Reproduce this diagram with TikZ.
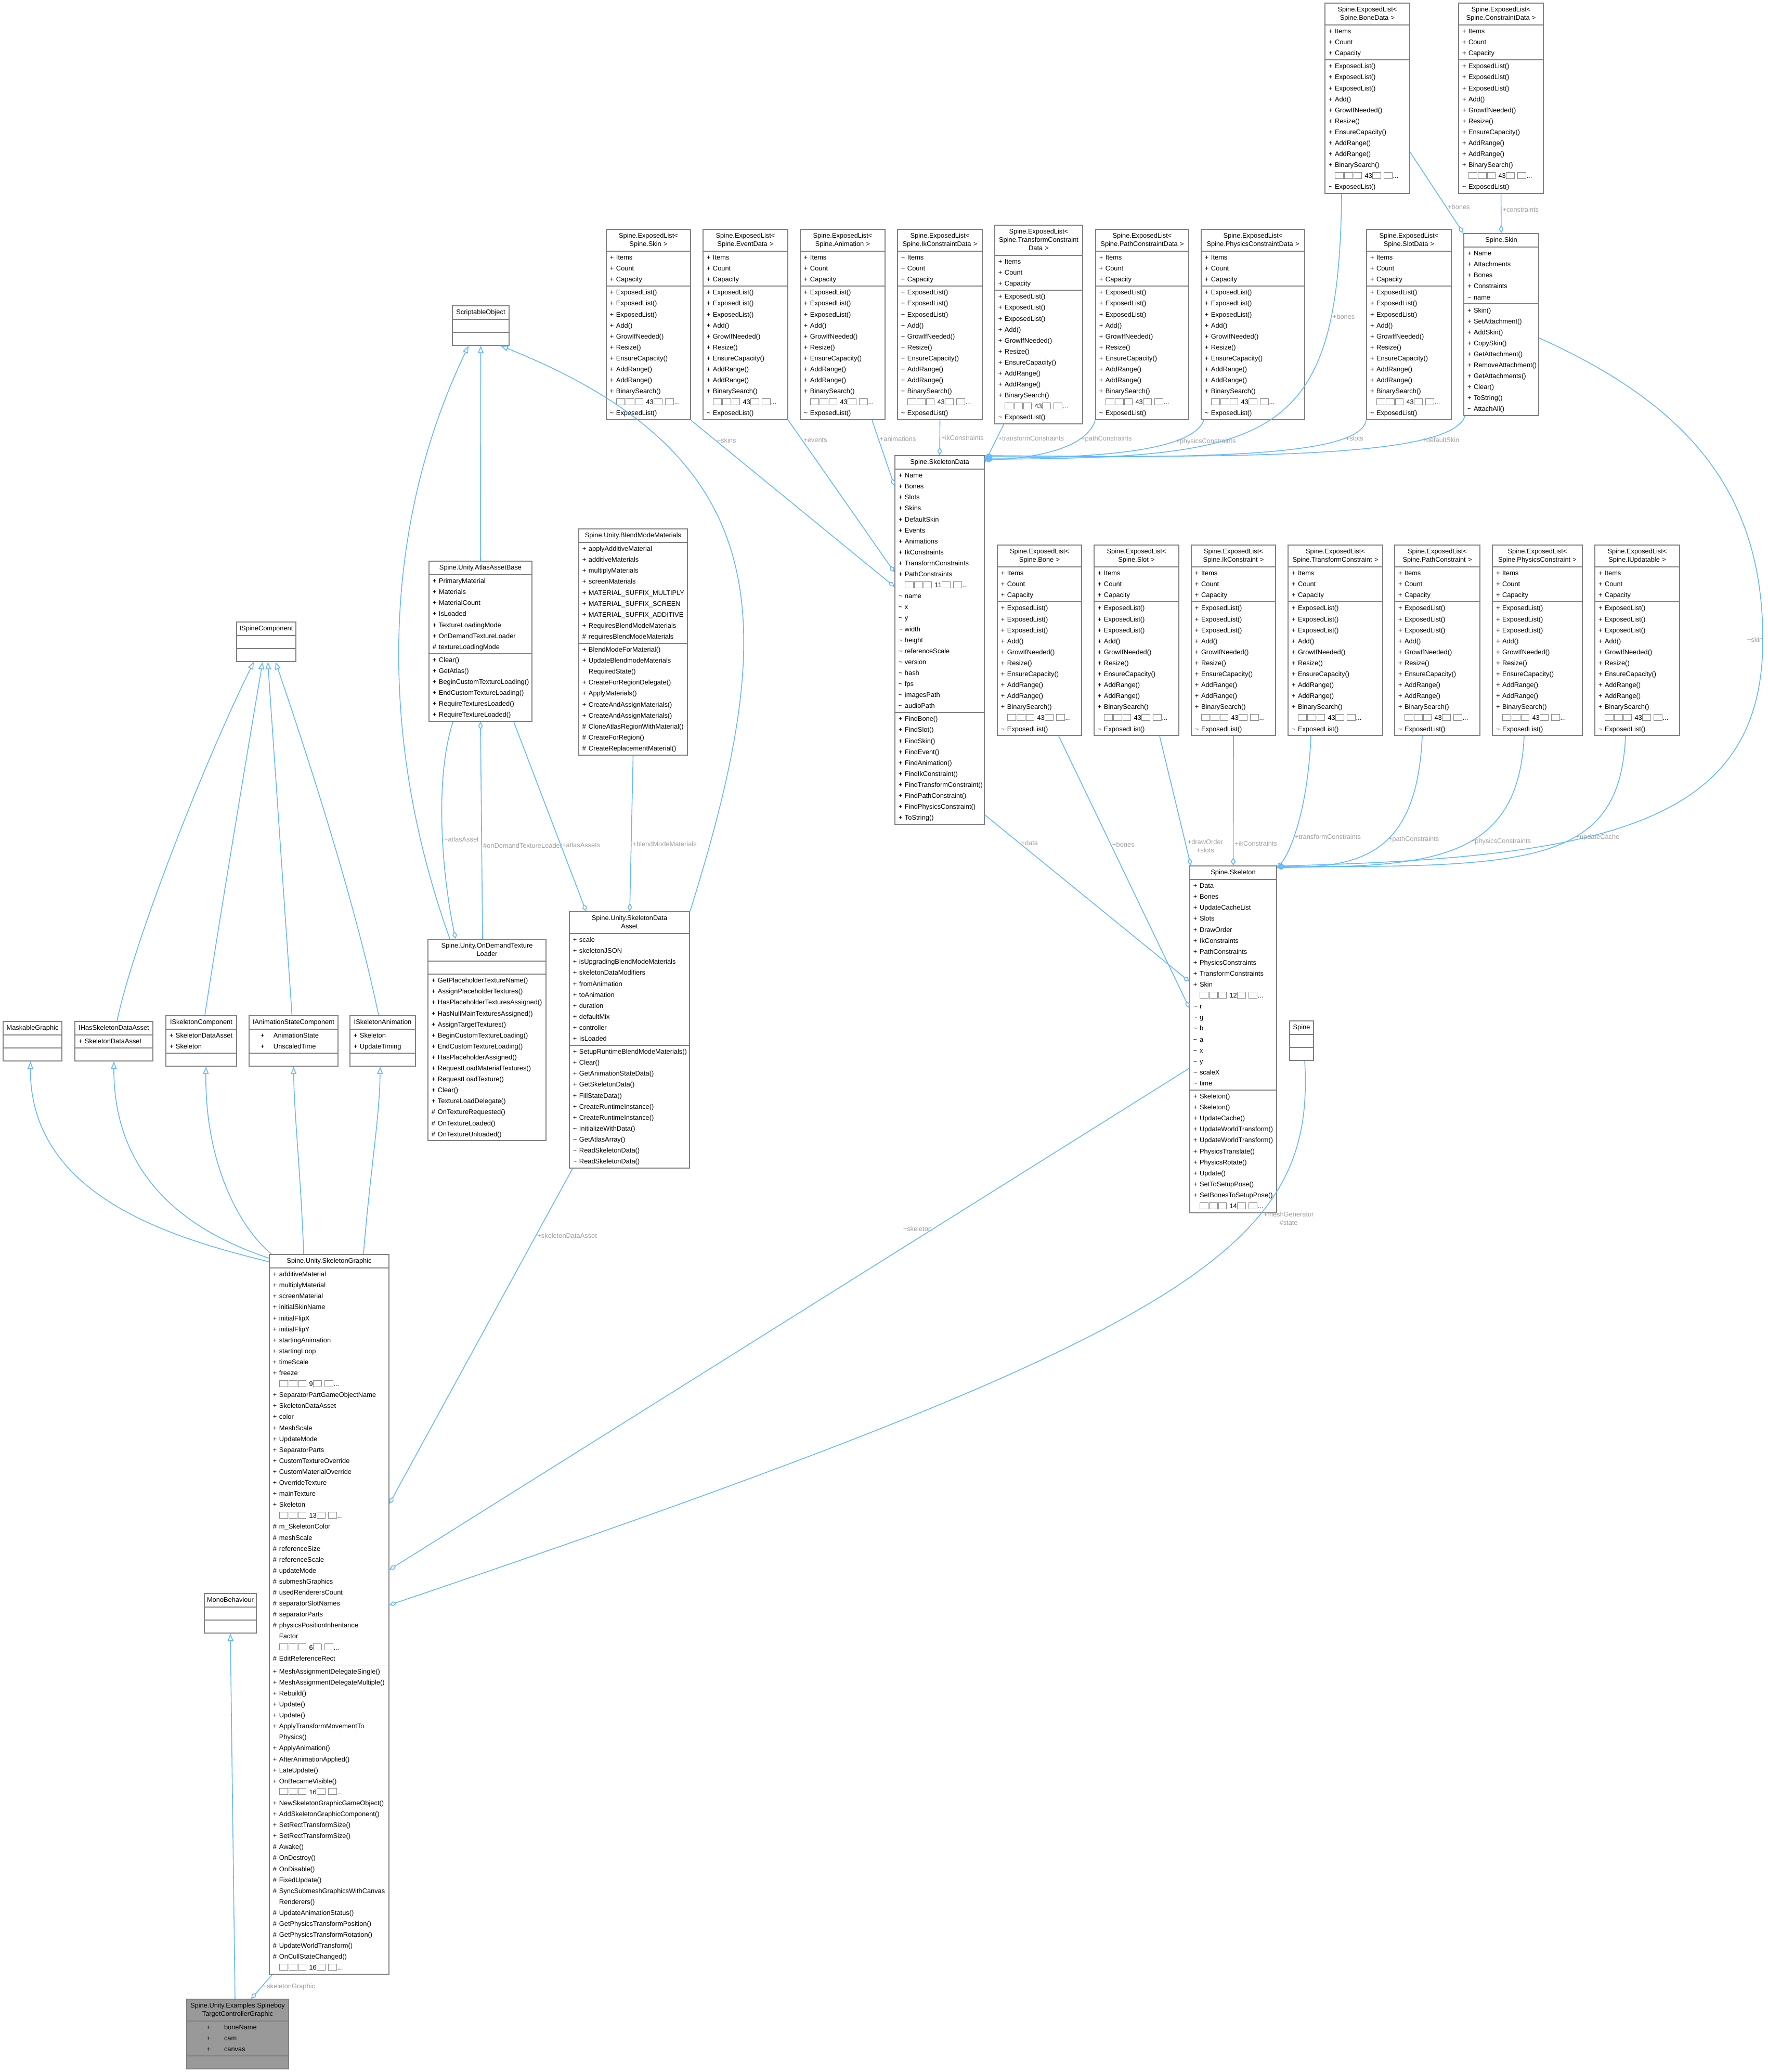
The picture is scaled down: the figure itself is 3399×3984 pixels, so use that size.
\documentclass[tikz,border=0pt]{standalone}
\usepackage{fontspec}
\setmainfont{Liberation Sans}
\usetikzlibrary{shapes.multipart}
\usetikzlibrary{arrows.meta}

\definecolor{edgeblue}{HTML}{63B8FF}
\definecolor{boxline}{HTML}{808080}
\definecolor{lblgray}{HTML}{A0A0A0}
\definecolor{tofugray}{HTML}{8A8A8A}
\definecolor{leaffill}{HTML}{999999}

\hyphenpenalty=10000
\exhyphenpenalty=10000

% one member row: visibility, then name
\newcommand{\mb}[2]{\noindent\hspace*{0.04cm}\makebox[0.12cm][l]{#1}#2\strut}
% same, with the wide gaps of a few boxes
\newcommand{\mbw}[3]{\noindent\hspace*{#3}\makebox[0.25cm][l]{#1}#2\strut}
\newcommand{\tl}{\textasciitilde}
\newcommand{\tofu}{{\color{tofugray}\setlength{\fboxsep}{0pt}\setlength{\fboxrule}{0.25pt}\fbox{\rule{0pt}{0.11cm}\rule{0.15cm}{0pt}}}\hspace{0.01cm}}
\newcommand{\more}[1]{\noindent\hspace*{0.16cm}\tofu\tofu\tofu\ #1\tofu\ \tofu...\strut}
\newcommand{\hd}[1]{\centering\fontsize{3.65pt}{4.55pt}\selectfont\rule{0pt}{4.04pt}#1\rule[-2.22pt]{0pt}{2.22pt}\par}
% the ExposedList body, shared by all list classes
\newcommand{\exattr}{\mb{+}{Items}\\\mb{+}{Count}\\\mb{+}{Capacity}}
\newcommand{\exmeth}{\mb{+}{ExposedList()}\\\mb{+}{ExposedList()}\\\mb{+}{ExposedList()}\\\mb{+}{Add()}\\\mb{+}{GrowIfNeeded()}\\\mb{+}{Resize()}\\\mb{+}{EnsureCapacity()}\\\mb{+}{AddRange()}\\\mb{+}{AddRange()}\\\mb{+}{BinarySearch()}\\\more{43}\\\mb{\tl}{ExposedList()}}

\begin{document}
\begin{tikzpicture}[x=0.01cm,y=-0.01cm,
  cls/.style={rectangle split,rectangle split parts=3,draw=boxline,line width=0.55pt,fill=white,anchor=north west,inner xsep=0.03cm,inner ysep=0.01cm,align=left,font=\fontsize{3.65pt}{6pt}\selectfont},
  inh/.style={draw=edgeblue,line width=0.45pt,-{Triangle[open,length=0.14cm,width=0.11cm]}},
  comp/.style={draw=edgeblue,line width=0.45pt,-{Diamond[open,length=0.15cm,width=0.09cm]}},
  lbl/.style={text=lblgray,font=\fontsize{3.65pt}{4.55pt}\selectfont,inner sep=0.02cm,align=center}]
\useasboundingbox (0,0) rectangle (3399,3984);
\fill[white] (0,0) rectangle (3399,3984);

% lists of data
\node[cls,text width=1.57cm] (bonedl) at (2547,5) {\hd{Spine.ExposedList<\\Spine.BoneData >}\nodepart{second}\exattr\nodepart{third}\exmeth};
\node[cls,text width=1.57cm] (cstdl) at (2804,5) {\hd{Spine.ExposedList<\\Spine.ConstraintData >}\nodepart{second}\exattr\nodepart{third}\exmeth};
\node[cls,text width=1.56cm] (skinl) at (1165,440) {\hd{Spine.ExposedList<\\Spine.Skin >}\nodepart{second}\exattr\nodepart{third}\exmeth};
\node[cls,text width=1.57cm] (evtl) at (1351,440) {\hd{Spine.ExposedList<\\Spine.EventData >}\nodepart{second}\exattr\nodepart{third}\exmeth};
\node[cls,text width=1.57cm] (animl) at (1538,440) {\hd{Spine.ExposedList<\\Spine.Animation >}\nodepart{second}\exattr\nodepart{third}\exmeth};
\node[cls,text width=1.57cm] (ikdl) at (1725,440) {\hd{Spine.ExposedList<\\Spine.IkConstraintData >}\nodepart{second}\exattr\nodepart{third}\exmeth};
\node[cls,text width=1.63cm] (trdl) at (1912,432) {\hd{Spine.ExposedList<\\Spine.TransformConstraint\\Data >}\nodepart{second}\exattr\nodepart{third}\exmeth};
\node[cls,text width=1.73cm] (pthdl) at (2106,440) {\hd{Spine.ExposedList<\\Spine.PathConstraintData >}\nodepart{second}\exattr\nodepart{third}\exmeth};
\node[cls,text width=1.93cm] (phydl) at (2309,440) {\hd{Spine.ExposedList<\\Spine.PhysicsConstraintData >}\nodepart{second}\exattr\nodepart{third}\exmeth};
\node[cls,text width=1.57cm] (slotdl) at (2627,440) {\hd{Spine.ExposedList<\\Spine.SlotData >}\nodepart{second}\exattr\nodepart{third}\exmeth};
\node[cls,text width=1.38cm] (skin) at (2814,448) {\hd{Spine.Skin}\nodepart{second}\mb{+}{Name}\\\mb{+}{Attachments}\\\mb{+}{Bones}\\\mb{+}{Constraints}\\\mb{\tl}{name}\nodepart{third}\mb{+}{Skin()}\\\mb{+}{SetAttachment()}\\\mb{+}{AddSkin()}\\\mb{+}{CopySkin()}\\\mb{+}{GetAttachment()}\\\mb{+}{RemoveAttachment()}\\\mb{+}{GetAttachments()}\\\mb{+}{Clear()}\\\mb{+}{ToString()}\\\mb{\tl}{AttachAll()}};

\node[cls,text width=1.66cm] (sdata) at (1720,875) {\hd{Spine.SkeletonData}\nodepart{second}\mb{+}{Name}\\\mb{+}{Bones}\\\mb{+}{Slots}\\\mb{+}{Skins}\\\mb{+}{DefaultSkin}\\\mb{+}{Events}\\\mb{+}{Animations}\\\mb{+}{IkConstraints}\\\mb{+}{TransformConstraints}\\\mb{+}{PathConstraints}\\\more{11}\\\mb{\tl}{name}\\\mb{\tl}{x}\\\mb{\tl}{y}\\\mb{\tl}{width}\\\mb{\tl}{height}\\\mb{\tl}{referenceScale}\\\mb{\tl}{version}\\\mb{\tl}{hash}\\\mb{\tl}{fps}\\\mb{\tl}{imagesPath}\\\mb{\tl}{audioPath}\nodepart{third}\mb{+}{FindBone()}\\\mb{+}{FindSlot()}\\\mb{+}{FindSkin()}\\\mb{+}{FindEvent()}\\\mb{+}{FindAnimation()}\\\mb{+}{FindIkConstraint()}\\\mb{+}{FindTransformConstraint()}\\\mb{+}{FindPathConstraint()}\\\mb{+}{FindPhysicsConstraint()}\\\mb{+}{ToString()}};

% lists of the skeleton
\node[cls,text width=1.56cm] (bonel) at (1917,1047) {\hd{Spine.ExposedList<\\Spine.Bone >}\nodepart{second}\exattr\nodepart{third}\exmeth};
\node[cls,text width=1.57cm] (slotl) at (2103,1047) {\hd{Spine.ExposedList<\\Spine.Slot >}\nodepart{second}\exattr\nodepart{third}\exmeth};
\node[cls,text width=1.56cm] (ikl) at (2290,1047) {\hd{Spine.ExposedList<\\Spine.IkConstraint >}\nodepart{second}\exattr\nodepart{third}\exmeth};
\node[cls,text width=1.76cm] (trl) at (2476,1047) {\hd{Spine.ExposedList<\\Spine.TransformConstraint >}\nodepart{second}\exattr\nodepart{third}\exmeth};
\node[cls,text width=1.58cm] (pthl) at (2681,1047) {\hd{Spine.ExposedList<\\Spine.PathConstraint >}\nodepart{second}\exattr\nodepart{third}\exmeth};
\node[cls,text width=1.67cm] (phyl) at (2869,1047) {\hd{Spine.ExposedList<\\Spine.PhysicsConstraint >}\nodepart{second}\exattr\nodepart{third}\exmeth};
\node[cls,text width=1.57cm] (updl) at (3066,1047) {\hd{Spine.ExposedList<\\Spine.IUpdatable >}\nodepart{second}\exattr\nodepart{third}\exmeth};

\node[cls,text width=1.61cm] (skel) at (2287,1664) {\hd{Spine.Skeleton}\nodepart{second}\mb{+}{Data}\\\mb{+}{Bones}\\\mb{+}{UpdateCacheList}\\\mb{+}{Slots}\\\mb{+}{DrawOrder}\\\mb{+}{IkConstraints}\\\mb{+}{PathConstraints}\\\mb{+}{PhysicsConstraints}\\\mb{+}{TransformConstraints}\\\mb{+}{Skin}\\\more{12}\\\mb{\tl}{r}\\\mb{\tl}{g}\\\mb{\tl}{b}\\\mb{\tl}{a}\\\mb{\tl}{x}\\\mb{\tl}{y}\\\mb{\tl}{scaleX}\\\mb{\tl}{time}\nodepart{third}\mb{+}{Skeleton()}\\\mb{+}{Skeleton()}\\\mb{+}{UpdateCache()}\\\mb{+}{UpdateWorldTransform()}\\\mb{+}{UpdateWorldTransform()}\\\mb{+}{PhysicsTranslate()}\\\mb{+}{PhysicsRotate()}\\\mb{+}{Update()}\\\mb{+}{SetToSetupPose()}\\\mb{+}{SetBonesToSetupPose()}\\\more{14}};
\node[cls,text width=0.40cm] (spine) at (2479,1962) {\hd{Spine}\nodepart{second}\strut\nodepart{third}\strut};

% unity side
\node[cls,text width=1.03cm] (scrobj) at (869,587) {\hd{ScriptableObject}\nodepart{second}\strut\nodepart{third}\strut};
\node[cls,text width=1.92cm] (atlas) at (824,1078) {\hd{Spine.Unity.AtlasAssetBase}\nodepart{second}\mb{+}{PrimaryMaterial}\\\mb{+}{Materials}\\\mb{+}{MaterialCount}\\\mb{+}{IsLoaded}\\\mb{+}{TextureLoadingMode}\\\mb{+}{OnDemandTextureLoader}\\\mb{\#}{textureLoadingMode}\nodepart{third}\mb{+}{Clear()}\\\mb{+}{GetAtlas()}\\\mb{+}{BeginCustomTextureLoading()}\\\mb{+}{EndCustomTextureLoading()}\\\mb{+}{RequireTexturesLoaded()}\\\mb{+}{RequireTextureLoaded()}};
\node[cls,text width=2.03cm] (blend) at (1112,1016) {\hd{Spine.Unity.BlendModeMaterials}\nodepart{second}\mb{+}{applyAdditiveMaterial}\\\mb{+}{additiveMaterials}\\\mb{+}{multiplyMaterials}\\\mb{+}{screenMaterials}\\\mb{+}{MATERIAL\_SUFFIX\_MULTIPLY}\\\mb{+}{MATERIAL\_SUFFIX\_SCREEN}\\\mb{+}{MATERIAL\_SUFFIX\_ADDITIVE}\\\mb{+}{RequiresBlendModeMaterials}\\\mb{\#}{requiresBlendModeMaterials}\nodepart{third}\mb{+}{BlendModeForMaterial()}\\\mb{+}{UpdateBlendmodeMaterials}\\\mb{}{RequiredState()}\\\mb{+}{CreateForRegionDelegate()}\\\mb{+}{ApplyMaterials()}\\\mb{+}{CreateAndAssignMaterials()}\\\mb{+}{CreateAndAssignMaterials()}\\\mb{\#}{CloneAtlasRegionWithMaterial()}\\\mb{\#}{CreateForRegion()}\\\mb{\#}{CreateReplacementMaterial()}};
\node[cls,text width=2.21cm] (odtl) at (822,1805) {\hd{Spine.Unity.OnDemandTexture\\Loader}\nodepart{second}\strut\nodepart{third}\mb{+}{GetPlaceholderTextureName()}\\\mb{+}{AssignPlaceholderTextures()}\\\mb{+}{HasPlaceholderTexturesAssigned()}\\\mb{+}{HasNullMainTexturesAssigned()}\\\mb{+}{AssignTargetTextures()}\\\mb{+}{BeginCustomTextureLoading()}\\\mb{+}{EndCustomTextureLoading()}\\\mb{+}{HasPlaceholderAssigned()}\\\mb{+}{RequestLoadMaterialTextures()}\\\mb{+}{RequestLoadTexture()}\\\mb{+}{Clear()}\\\mb{+}{TextureLoadDelegate()}\\\mb{\#}{OnTextureRequested()}\\\mb{\#}{OnTextureLoaded()}\\\mb{\#}{OnTextureUnloaded()}};
\node[cls,text width=2.25cm] (sdasset) at (1094,1752) {\hd{Spine.Unity.SkeletonData\\Asset}\nodepart{second}\mb{+}{scale}\\\mb{+}{skeletonJSON}\\\mb{+}{isUpgradingBlendModeMaterials}\\\mb{+}{skeletonDataModifiers}\\\mb{+}{fromAnimation}\\\mb{+}{toAnimation}\\\mb{+}{duration}\\\mb{+}{defaultMix}\\\mb{+}{controller}\\\mb{+}{IsLoaded}\nodepart{third}\mb{+}{SetupRuntimeBlendModeMaterials()}\\\mb{+}{Clear()}\\\mb{+}{GetAnimationStateData()}\\\mb{+}{GetSkeletonData()}\\\mb{+}{FillStateData()}\\\mb{+}{CreateRuntimeInstance()}\\\mb{+}{CreateRuntimeInstance()}\\\mb{\tl}{InitializeWithData()}\\\mb{\tl}{GetAtlasArray()}\\\mb{\tl}{ReadSkeletonData()}\\\mb{\tl}{ReadSkeletonData()}};

% interfaces
\node[cls,text width=1.08cm] (ispine) at (454,1195) {\hd{ISpineComponent}\nodepart{second}\strut\nodepart{third}\strut};
\node[cls,text width=1.07cm] (maskg) at (5,1963) {\hd{MaskableGraphic}\nodepart{second}\strut\nodepart{third}\strut};
\node[cls,text width=1.44cm] (ihas) at (143,1963) {\hd{IHasSkeletonDataAsset}\nodepart{second}\mb{+}{SkeletonDataAsset}\nodepart{third}\strut};
\node[cls,text width=1.30cm] (iskc) at (318,1952) {\hd{ISkeletonComponent}\nodepart{second}\mb{+}{SkeletonDataAsset}\\\mb{+}{Skeleton}\nodepart{third}\strut};
\node[cls,text width=1.65cm] (ianim) at (478,1952) {\hd{IAnimationStateComponent}\nodepart{second}\mbw{+}{AnimationState}{0.19cm}\\\mbw{+}{UnscaledTime}{0.19cm}\nodepart{third}\strut};
\node[cls,text width=1.20cm] (iskan) at (672,1952) {\hd{ISkeletonAnimation}\nodepart{second}\mb{+}{Skeleton}\\\mb{+}{UpdateTiming}\nodepart{third}\strut};

\node[cls,text width=2.24cm] (sgr) at (517,2411) {\hd{Spine.Unity.SkeletonGraphic}\nodepart{second}\mb{+}{additiveMaterial}\\\mb{+}{multiplyMaterial}\\\mb{+}{screenMaterial}\\\mb{+}{initialSkinName}\\\mb{+}{initialFlipX}\\\mb{+}{initialFlipY}\\\mb{+}{startingAnimation}\\\mb{+}{startingLoop}\\\mb{+}{timeScale}\\\mb{+}{freeze}\\\more{9}\\\mb{+}{SeparatorPartGameObjectName}\\\mb{+}{SkeletonDataAsset}\\\mb{+}{color}\\\mb{+}{MeshScale}\\\mb{+}{UpdateMode}\\\mb{+}{SeparatorParts}\\\mb{+}{CustomTextureOverride}\\\mb{+}{CustomMaterialOverride}\\\mb{+}{OverrideTexture}\\\mb{+}{mainTexture}\\\mb{+}{Skeleton}\\\more{13}\\\mb{\#}{m\_SkeletonColor}\\\mb{\#}{meshScale}\\\mb{\#}{referenceSize}\\\mb{\#}{referenceScale}\\\mb{\#}{updateMode}\\\mb{\#}{submeshGraphics}\\\mb{\#}{usedRenderersCount}\\\mb{\#}{separatorSlotNames}\\\mb{\#}{separatorParts}\\\mb{\#}{physicsPositionInheritance}\\\mb{}{Factor}\\\more{6}\\\mb{\#}{EditReferenceRect}\nodepart{third}\mb{+}{MeshAssignmentDelegateSingle()}\\\mb{+}{MeshAssignmentDelegateMultiple()}\\\mb{+}{Rebuild()}\\\mb{+}{Update()}\\\mb{+}{Update()}\\\mb{+}{ApplyTransformMovementTo}\\\mb{}{Physics()}\\\mb{+}{ApplyAnimation()}\\\mb{+}{AfterAnimationApplied()}\\\mb{+}{LateUpdate()}\\\mb{+}{OnBecameVisible()}\\\more{16}\\\mb{+}{NewSkeletonGraphicGameObject()}\\\mb{+}{AddSkeletonGraphicComponent()}\\\mb{+}{SetRectTransformSize()}\\\mb{+}{SetRectTransformSize()}\\\mb{\#}{Awake()}\\\mb{\#}{OnDestroy()}\\\mb{\#}{OnDisable()}\\\mb{\#}{FixedUpdate()}\\\mb{\#}{SyncSubmeshGraphicsWithCanvas}\\\mb{}{Renderers()}\\\mb{\#}{UpdateAnimationStatus()}\\\mb{\#}{GetPhysicsTransformPosition()}\\\mb{\#}{GetPhysicsTransformRotation()}\\\mb{\#}{UpdateWorldTransform()}\\\mb{\#}{OnCullStateChanged()}\\\more{16}};

\node[cls,text width=0.94cm] (mono) at (392,3063) {\hd{MonoBehaviour}\nodepart{second}\strut\nodepart{third}\strut};
\node[cls,fill=leaffill,text width=1.90cm] (tcg) at (358,3843) {\hd{Spine.Unity.Examples.Spineboy\\TargetControllerGraphic}\nodepart{second}\mbw{+}{\hspace{0.08cm}boneName}{0.36cm}\\\mbw{+}{\hspace{0.08cm}cam}{0.36cm}\\\mbw{+}{\hspace{0.08cm}canvas}{0.36cm}\nodepart{third}\strut};

% inheritance
\draw[inh] ([shift={(94,0)}]tcg.north west) -- (mono.south);
\draw[inh] ([shift={(0,15)}]sgr.north west) .. controls (330,2380) and (57,2300) .. ([shift={(-4,0)}]maskg.south);
\draw[inh] ([shift={(0,8)}]sgr.north west) .. controls (400,2380) and (218,2290) .. (ihas.south);
\draw[inh] ([shift={(5,0)}]sgr.north west) .. controls (470,2370) and (394,2250) .. ([shift={(9,0)}]iskc.south);
\draw[inh] ([shift={(67,0)}]sgr.north west) .. controls (578,2250) and (566,2150) .. (ianim.south);
\draw[inh] ([shift={(182,0)}]sgr.north west) .. controls (712,2250) and (730,2150) .. ([shift={(-5,0)}]iskan.south);
\draw[inh] ([shift={(6,0)}]ihas.north) .. controls (260,1800) and (400,1450) .. ([shift={(-24,0)}]ispine.south);
\draw[inh] ([shift={(7,0)}]iskc.north) .. controls (420,1780) and (480,1420) .. ([shift={(-7,0)}]ispine.south);
\draw[inh] ([shift={(-3,0)}]ianim.north) -- ([shift={(3,0)}]ispine.south);
\draw[inh] ([shift={(-8,0)}]iskan.north) .. controls (680,1720) and (580,1420) .. ([shift={(18,0)}]ispine.south);
\draw[inh] (sdasset.north east) .. controls (1500,1200) and (1500,880) .. ([shift={(94,0)}]scrobj.south west);
\draw[inh] (atlas.north) -- (scrobj.south);
\draw[inh] ([shift={(43,0)}]odtl.north west) .. controls (720,1400) and (740,1000) .. ([shift={(32,0)}]scrobj.south west);

% members
\draw[comp] ([shift={(6,0)}]sgr.south west) -- node[lbl,right,pos=0.5] {+skeletonGraphic} ([shift={(125,0)}]tcg.north west);
\draw[comp] ([shift={(7,0)}]sdasset.south west) -- node[lbl,right,pos=0.2] {+skeletonDataAsset} ([shift={(0,480)}]sgr.north east);
\draw[comp] ([shift={(0,390)}]skel.north west) -- node[lbl,left,pos=0.32] {+skeleton} ([shift={(0,607)}]sgr.north east);
\draw[comp] ([shift={(30,0)}]spine.south west) .. controls (2530,2400) and (2300,2560) .. node[lbl,pos=0.32,anchor=west,xshift=0.1cm] {+meshGenerator\\\#state} ([shift={(0,675)}]sgr.north east);
\draw[comp] ([shift={(47,0)}]atlas.south west) .. controls (835,1500) and (850,1680) .. node[lbl,pos=0.55,right] {+atlasAsset} ([shift={(54,0)}]odtl.north west);
\draw[comp] ([shift={(106,0)}]odtl.north west) -- node[lbl,right,pos=0.43] {\#onDemandTextureLoader} (atlas.south);
\draw[comp] ([shift={(164,0)}]atlas.south west) -- node[lbl,right,pos=0.65] {+atlasAssets} ([shift={(33,0)}]sdasset.north west);
\draw[comp] (blend.south) -- node[lbl,right,pos=0.57] {+blendModeMaterials} ([shift={(117,0)}]sdasset.north west);

\draw[comp] ([shift={(0,-19)}]sdata.south east) -- node[lbl,pos=0.17,right] {+data} ([shift={(0,223)}]skel.north west);
\draw[comp] ([shift={(119,0)}]bonel.south west) -- node[lbl,pos=0.4,right] {+bones} ([shift={(0,274)}]skel.north west);
\draw[comp] ([shift={(127,0)}]slotl.south west) -- node[lbl,pos=0.85,right] {+drawOrder\\+slots} ([shift={(3,0)}]skel.north west);
\draw[comp] (ikl.south) -- node[lbl,pos=0.83,right] {+ikConstraints} (skel.north);
\draw[comp] ([shift={(45,0)}]trl.south west) .. controls (2515,1560) and (2480,1640) .. node[lbl,pos=0.6,right] {+transformConstraints} ([shift={(0,5)}]skel.north east);
\draw[comp] ([shift={(54,0)}]pthl.south west) .. controls (2725,1640) and (2620,1668) .. node[lbl,pos=0.45,right] {+pathConstraints} ([shift={(0,4)}]skel.north east);
\draw[comp] ([shift={(62,0)}]phyl.south west) .. controls (2920,1650) and (2760,1668) .. node[lbl,pos=0.45,right] {+physicsConstraints} ([shift={(0,3)}]skel.north east);
\draw[comp] ([shift={(60,0)}]updl.south west) .. controls (3115,1660) and (2950,1668) .. node[lbl,pos=0.4,right] {+updateCache} ([shift={(0,2)}]skel.north east);
\draw[comp] ([shift={(0,202)}]skin.north east) .. controls (3250,780) and (3390,950) .. (3390,1230) node[lbl,xshift=-0.15cm] {+skin} .. controls (3390,1580) and (3100,1650) .. ([shift={(0,1)}]skel.north east);

\draw[comp] (skinl.south east) -- node[lbl,pos=0.12,right] {+skins} ([shift={(0,253)}]sdata.north west);
\draw[comp] (evtl.south east) -- node[lbl,pos=0.13,right] {+events} ([shift={(0,225)}]sdata.north west);
\draw[comp] ([shift={(-26,0)}]animl.south east) -- node[lbl,pos=0.28,right] {+animations} ([shift={(0,59)}]sdata.north west);
\draw[comp] (ikdl.south) -- node[lbl,pos=0.5,right] {+ikConstraints} (sdata.north);
\draw[comp] ([shift={(18,0)}]trdl.south west) -- node[lbl,pos=0.37,right] {+transformConstraints} ([shift={(0,14)}]sdata.north east);
\draw[comp] (pthdl.south west) .. controls (2090,860) and (2000,880) .. node[lbl,pos=0.28,right] {+pathConstraints} ([shift={(0,10)}]sdata.north east);
\draw[comp] ([shift={(6,0)}]phydl.south west) .. controls (2290,870) and (2100,880) .. node[lbl,pos=0.28,right] {+physicsConstraints} ([shift={(0,6)}]sdata.north east);
\draw[comp] (slotdl.south west) .. controls (2615,880) and (2300,880) .. node[lbl,pos=0.2,right] {+slots} ([shift={(0,3)}]sdata.north east);
\draw[comp] ([shift={(3,0)}]skin.south west) .. controls (2790,880) and (2400,880) .. node[lbl,pos=0.25,right] {+defaultSkin} ([shift={(0,1)}]sdata.north east);
\draw[comp] ([shift={(33,0)}]bonedl.south west) .. controls (2575,850) and (2450,880) .. node[lbl,pos=0.2,right] {+bones} ([shift={(0,8)}]sdata.north east);
\draw[comp] ([shift={(0,288)}]bonedl.north east) -- node[lbl,pos=0.68,right] {+bones} (skin.north west);
\draw[comp] (cstdl.south) -- node[lbl,pos=0.4,right] {+constraints} (skin.north);
\end{tikzpicture}
\end{document}
